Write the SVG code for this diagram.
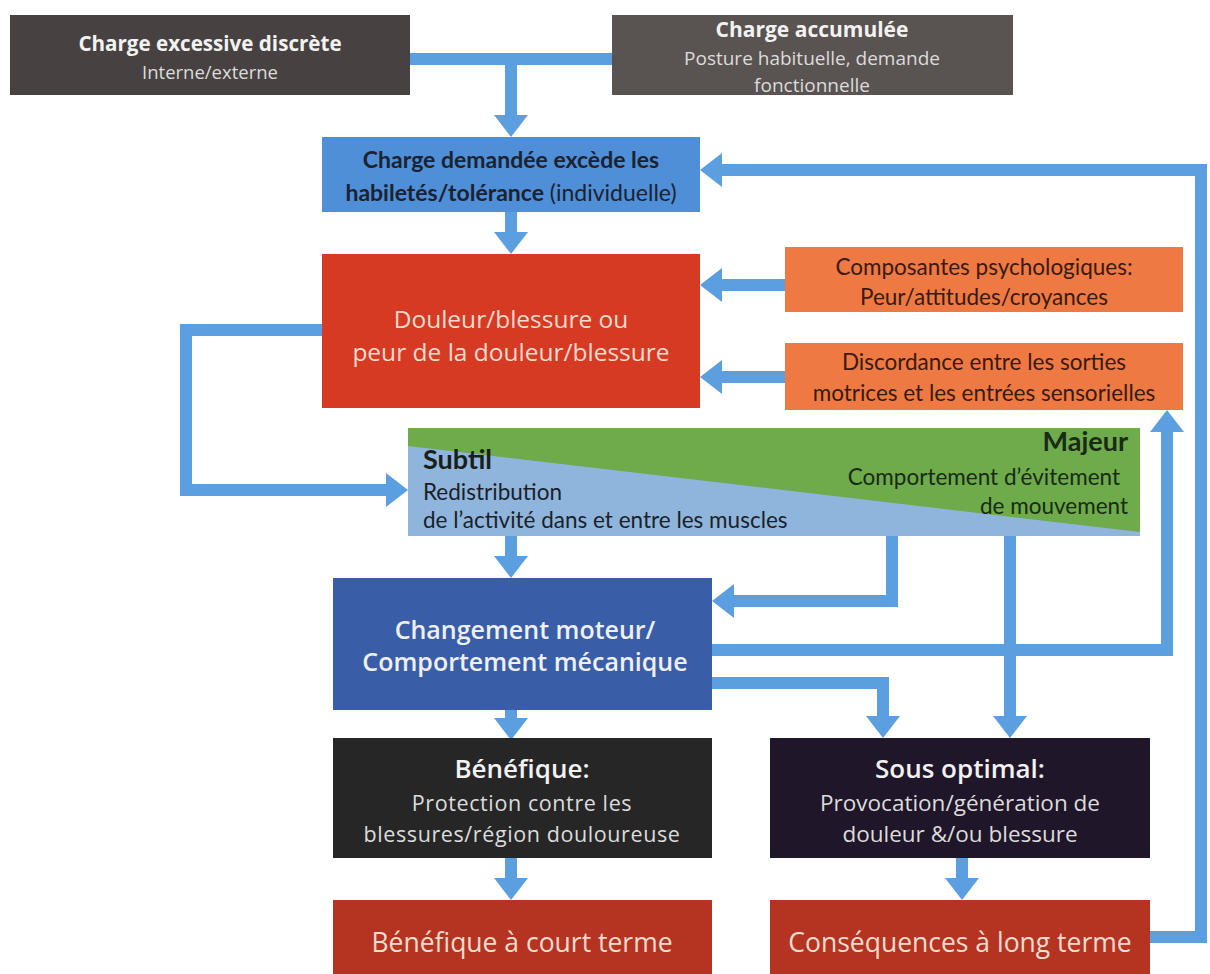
<svg xmlns="http://www.w3.org/2000/svg" width="1210" height="974" viewBox="0 0 1210 974">
<defs>
<marker id="ah" markerUnits="userSpaceOnUse" markerWidth="22" markerHeight="34" viewBox="0 0 22 34" refX="0" refY="17" orient="auto">
<path d="M0,0 L22,17 L0,34 Z" fill="#5b9fe0"/>
</marker>
<style>
text{font-family:"Open Sans","Noto Sans","Liberation Sans",sans-serif;text-anchor:middle}
.cal{font-family:Lato,"Liberation Sans",sans-serif}
.b{font-weight:bold}
.w{fill:#f2f2f2}
.lw{fill:#dcdcdc}
.dk{fill:#1c2230}
.c{fill:none;stroke:#5b9fe0;stroke-width:12}
.ca{fill:none;stroke:#5b9fe0;stroke-width:12;marker-end:url(#ah)}
</style>
</defs>
<rect width="1210" height="974" fill="#ffffff"/>
<g id="connectors">
<path class="c" d="M410,59 H612"/>
<path class="ca" d="M511,59 V115"/>
<path class="ca" d="M511,212 V232"/>
<path class="ca" d="M785,285 H722"/>
<path class="ca" d="M785,377 H722"/>
<path class="ca" d="M322,330 H186 V490 H386"/>
<path class="ca" d="M511,536 V556"/>
<path class="ca" d="M892,536 V601 H734"/>
<path class="ca" d="M1010,536 V716"/>
<path class="ca" d="M712,650 H1167 V432"/>
<path class="ca" d="M712,683 H883 V716"/>
<path class="ca" d="M511,710 V718"/>
<path class="ca" d="M511,858 V878"/>
<path class="ca" d="M962,858 V878"/>
<path class="ca" d="M1150,937 H1201 V170 H722"/>
</g>
<g id="n1">
<rect x="10" y="15" width="400" height="80" fill="#474241"/>
<text x="210" y="51" class="b w" font-size="20.6">Charge excessive discrète</text>
<text x="210" y="79" class="lw" font-size="18.5">Interne/externe</text>
</g>
<g id="n2">
<rect x="612" y="15" width="401" height="80" fill="#595351"/>
<text x="812" y="37" class="b w" font-size="21">Charge accumulée</text>
<text x="812" y="65" class="lw" font-size="19">Posture habituelle, demande</text>
<text x="812" y="92" class="lw" font-size="19">fonctionnelle</text>
</g>
<g id="n3">
<rect x="322" y="137" width="378" height="75" fill="#4e8fd8"/>
<text x="511" y="168" class="dk cal" font-size="23"><tspan class="b">Charge demandée excède les</tspan></text>
<text x="511" y="201" class="dk cal" font-size="23"><tspan class="b">habiletés/tolérance</tspan> (individuelle)</text>
</g>
<g id="n4">
<rect x="322" y="254" width="378" height="154" fill="#d73a23"/>
<text x="511" y="328" font-weight="500" fill="#f6dccf" font-size="24.5">Douleur/blessure ou</text>
<text x="511" y="361" font-weight="500" fill="#f6dccf" font-size="24.5">peur de la douleur/blessure</text>
</g>
<g id="n5">
<rect x="785" y="247" width="398" height="65" fill="#ee7942"/>
<text x="984" y="275" class="cal" fill="#3a1a10" font-size="22.5">Composantes psychologiques:</text>
<text x="984" y="305" class="cal" fill="#3a1a10" font-size="22.5">Peur/attitudes/croyances</text>
</g>
<g id="n6">
<rect x="785" y="343" width="398" height="67" fill="#ee7942"/>
<text x="984" y="370" class="cal" fill="#3a1a10" font-size="22.5">Discordance entre les sorties</text>
<text x="984" y="401" class="cal" fill="#3a1a10" font-size="22.5">motrices et les entrées sensorielles</text>
</g>
<g id="n7">
<rect x="408" y="428" width="732" height="108" fill="#6dab4b"/>
<polygon points="408,446 1140,532 1140,536 408,536" fill="#8fb5dc"/>
<text x="423" y="469" class="cal b" fill="#1a1f1a" font-size="27" style="text-anchor:start">Subtil</text>
<text x="423" y="500" class="cal" fill="#1a1f2a" font-size="22.5" style="text-anchor:start">Redistribution</text>
<text x="423" y="528" class="cal" fill="#1a1f2a" font-size="22.5" style="text-anchor:start">de l’activité dans et entre les muscles</text>
<text x="1128" y="451" class="cal b" fill="#1a2a14" font-size="27" style="text-anchor:end">Majeur</text>
<text x="1120" y="485" class="cal" fill="#1a2a14" font-size="22.5" style="text-anchor:end">Comportement d’évitement</text>
<text x="1128" y="514" class="cal" fill="#1a2a14" font-size="22.5" style="text-anchor:end">de mouvement</text>
</g>
<g id="n8">
<rect x="333" y="578" width="379" height="132" fill="#3a5da8"/>
<text x="525" y="639" font-weight="600" fill="#eef0f6" font-size="25">Changement moteur/</text>
<text x="525" y="671" font-weight="600" fill="#eef0f6" font-size="25">Comportement mécanique</text>
</g>
<g id="n9">
<rect x="333" y="738" width="379" height="120" fill="#262626"/>
<text x="522" y="778" font-weight="600" class="w" font-size="26">Bénéfique:</text>
<text x="522" y="811" class="lw" font-size="21.5" letter-spacing="0.6">Protection contre les</text>
<text x="522" y="842" class="lw" font-size="21.5" letter-spacing="0.6">blessures/région douloureuse</text>
</g>
<g id="n10">
<rect x="770" y="738" width="380" height="120" fill="#1f1629"/>
<text x="960" y="778" font-weight="600" class="w" font-size="26">Sous optimal:</text>
<text x="960" y="811" class="lw" font-size="22.5">Provocation/génération de</text>
<text x="960" y="842" class="lw" font-size="22.5">douleur &amp;/ou blessure</text>
</g>
<g id="n11">
<rect x="333" y="900" width="379" height="74" fill="#b53421"/>
<text x="522" y="952" font-weight="500" fill="#f6dccf" font-size="26.5">Bénéfique à court terme</text>
</g>
<g id="n12">
<rect x="770" y="900" width="380" height="74" fill="#b53421"/>
<text x="960" y="952" font-weight="500" fill="#f6dccf" font-size="26.5">Conséquences à long terme</text>
</g>
</svg>
